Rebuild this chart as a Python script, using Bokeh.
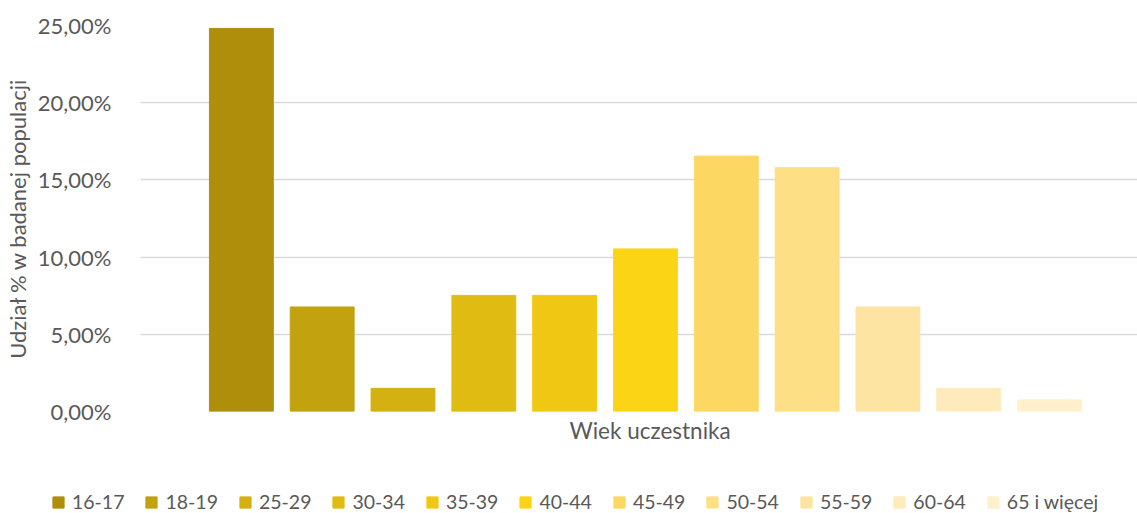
from bokeh.plotting import figure
from bokeh.layouts import column, row
from bokeh.models import (Range1d, FixedTicker, CustomJSTickFormatter, Legend,
                          LegendItem, ColumnDataSource, Title)
from bokeh.embed import file_html
from bokeh.resources import INLINE

categories = ["16-17", "18-19", "25-29", "30-34", "35-39", "40-44",
              "45-49", "50-54", "55-59", "60-64", "65 i więcej"]
shares = [24.81, 6.77, 1.50, 7.52, 7.52, 10.53, 16.54, 15.79, 6.77, 1.50, 0.75]
colors = ["#AE8E0B", "#C2A20E", "#D4B010", "#E0BC12", "#F0C814", "#FCD416",
          "#FCD862", "#FDDF86", "#FDE4A2", "#FDEBBB", "#FEF0CB"]
y_ticks = [0, 5, 10, 15, 20, 25]

FONT = "Lato"
GREY = "#595959"

src = ColumnDataSource(dict(x=list(range(len(categories))), top=shares,
                            color=colors, cat=categories))

p = figure(width=1137, height=483, output_backend="svg", toolbar_location=None,
           x_range=Range1d(-1.248, 11.088), y_range=Range1d(0, 25),
           min_border_left=139, min_border_right=0, min_border_top=25,
           min_border_bottom=72)
p.outline_line_color = None
p.background_fill_color = "white"

r = p.vbar(x="x", top="top", width=0.79, color="color", source=src)

p.xaxis.visible = False
xtitle = Title(text="Wiek uczestnika", align="left", offset=429, standoff=7,
               text_font=FONT, text_font_style="normal", text_font_size="22.5px",
               text_color=GREY)
p.add_layout(xtitle, "below")

p.xgrid.visible = False
p.ygrid.ticker = FixedTicker(ticks=y_ticks)
p.ygrid.grid_line_color = "#d9d9d9"
p.ygrid.grid_line_width = 1.5

ya = p.yaxis[0]
ya.ticker = FixedTicker(ticks=y_ticks)
ya.formatter = CustomJSTickFormatter(code="return tick.toFixed(2).replace('.', ',') + '%';")
ya.axis_line_color = None
ya.major_tick_line_color = None
ya.minor_tick_line_color = None
ya.major_label_standoff = 23
ya.major_label_text_font = FONT
ya.major_label_text_font_size = "22px"
ya.major_label_text_color = GREY
ya.axis_label = "Udział % w badanej populacji"
ya.axis_label_text_font = FONT
ya.axis_label_text_font_style = "normal"
ya.axis_label_text_font_size = "22px"
ya.axis_label_text_color = GREY
ya.axis_label_standoff = 4

# legend strip below the chart
lg = figure(width=1137, height=30, output_backend="svg", toolbar_location=None,
            x_range=Range1d(100, 200), y_range=Range1d(100, 200),
            x_axis_location=None, y_axis_location=None,
            min_border=0, min_border_left=0, min_border_right=0,
            min_border_top=0, min_border_bottom=0)
lg.outline_line_color = None
lg.xgrid.visible = False
lg.ygrid.visible = False
lr = lg.vbar(x="x", top="top", width=0.79, color="color", source=src)

legend = Legend(items=[LegendItem(label=c, renderers=[lr], index=i)
                       for i, c in enumerate(categories)],
                orientation="horizontal", location=(51, 0),
                padding=0, margin=0, spacing=20, label_standoff=7,
                glyph_width=14, glyph_height=14, label_height=20,
                border_line_color=None, background_fill_alpha=0,
                label_text_font=FONT, label_text_font_size="19.5px",
                label_text_color=GREY)
lg.add_layout(legend)

layout = column(p, row(lg), spacing=0)
open("out.html", "w").write(file_html(layout, INLINE))
